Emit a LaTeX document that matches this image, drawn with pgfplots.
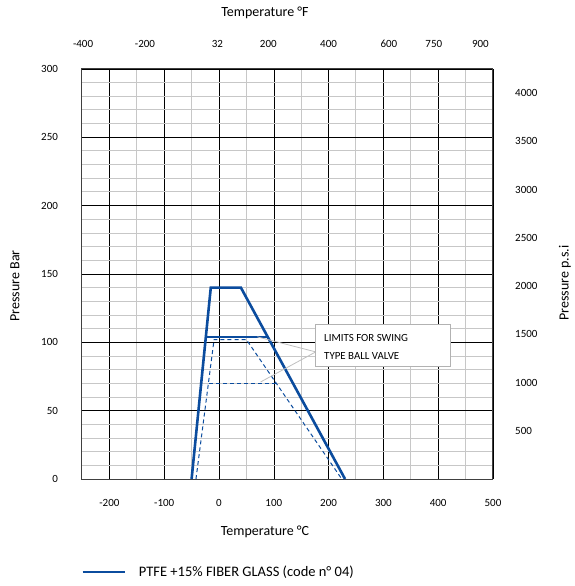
\documentclass[border=0pt]{standalone}
\usepackage{pgfplots}
\pgfplotsset{compat=1.18}
\usepackage{fontspec}
\setmainfont{Carlito}
\definecolor{lineblue}{HTML}{0B4C9E}
\begin{document}
\begin{tikzpicture}[x=1pt,y=1pt]
\useasboundingbox (-82,-107) rectangle (492,479);
\begin{axis}[
  at={(0,0)}, anchor=south west,
  scale only axis, width=411pt, height=410pt,
  xmin=-250, xmax=500, ymin=0, ymax=300,
  xtick={-200,-100,...,500}, ytick={0,50,...,300},
  minor x tick num=1, minor y tick num=4,
  grid=both,
  major grid style={black, line width=0.5pt},
  minor grid style={black!22, line width=1pt},
  major tick length=0pt, minor tick length=0pt,
  axis line style={black!75, line width=1pt},
  ticklabel style={font=\fontsize{11}{13}\selectfont},
  /pgf/number format/assume math mode=true,
  /pgf/number format/1000 sep={},
  xticklabel style={yshift=-16.5pt},
  yticklabel style={xshift=-20.5pt},
  clip=false,
  legend style={at={(-0.002,-0.227)}, anchor=west, draw=none, fill=none,
    inner sep=0pt, font=\fontsize{14.5}{16}\selectfont,
    /tikz/every odd column/.append style={column sep=11pt}},
  legend cell align=left,
  legend image code/.code={\draw[#1] (0pt,0pt) -- (42pt,0pt);},
]
\addplot[lineblue, line width=2.6pt] coordinates {(-50,0) (-15,140) (40,140) (230,0)};
\addlegendentry{PTFE +15\% FIBER GLASS (code n° 04)}
\addplot[lineblue, line width=2.6pt, forget plot] coordinates {(-24,104) (88,104)};
\addplot[lineblue, line width=1pt, dash pattern=on 4pt off 3pt, forget plot] coordinates {(-42,0) (-9,102) (50,102) (224,0)};
\addplot[lineblue, line width=1pt, dash pattern=on 4pt off 3pt, forget plot] coordinates {(-18,70) (104,70)};
\draw[black!25, line width=0.8pt] (axis cs:70,104) -- (axis cs:176.5,93) -- (axis cs:76,71);
\draw[black!30, fill=white, line width=0.8pt] (axis cs:176.5,82.2) rectangle (axis cs:422.8,113.2);
\node[anchor=west, inner sep=0pt, font=\fontsize{10.9}{12}\selectfont] at (axis cs:191.6,102.9) {LIMITS FOR SWING};
\node[anchor=west, inner sep=0pt, font=\fontsize{10.9}{12}\selectfont] at (axis cs:191.6,90) {TYPE BALL VALVE};
\end{axis}
\begin{axis}[
  at={(0,0)}, anchor=south west,
  scale only axis, width=411pt, height=410pt,
  xmin=-250, xmax=500, ymin=0, ymax=4250,
  axis x line*=top, axis y line*=right,
  axis line style={draw=none},
  xtick={-248,-135,-3,90,200,310,392,477},
  xticklabels={-400,-200,32,200,400,600,750,900},
  ytick={500,1000,...,4000},
  major tick length=0pt, minor tick length=0pt,
  ticklabel style={font=\fontsize{11}{13}\selectfont},
  /pgf/number format/assume math mode=true,
  /pgf/number format/1000 sep={},
  xticklabel style={yshift=17.5pt},
  yticklabel style={xshift=18.7pt},
]
\end{axis}
\node[font=\fontsize{14}{16}\selectfont] at (183,466) {Temperature °F};
\node[font=\fontsize{14}{16}\selectfont] at (183,-53) {Temperature °C};
\node[rotate=90, font=\fontsize{14}{16}\selectfont] at (-67,193) {Pressure Bar};
\node[rotate=90, font=\fontsize{14}{16}\selectfont] at (483,196) {Pressure p.s.i};
\end{tikzpicture}
\end{document}
